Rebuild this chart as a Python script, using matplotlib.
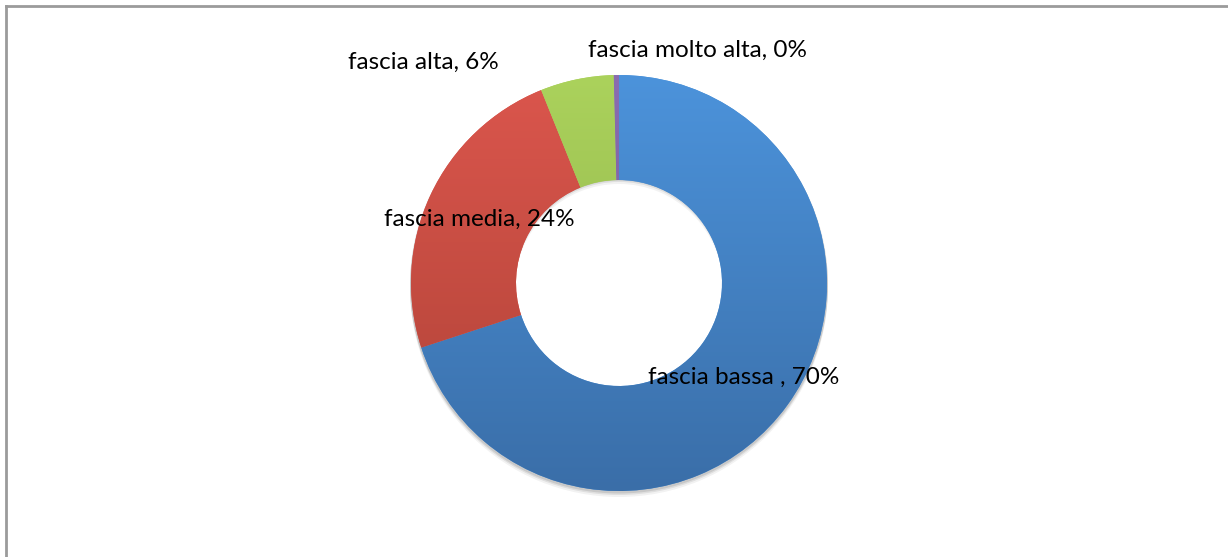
import matplotlib.pyplot as plt
import numpy as np
from matplotlib.colors import to_rgb
from matplotlib.lines import Line2D
from matplotlib.patches import Wedge

# Data
categories = ['fascia bassa ', 'fascia media', 'fascia alta', 'fascia molto alta']
values = [69.9, 23.9, 5.7, 0.4]
top_colors = ['#4C93DB', '#DB564D', '#ABD25C', '#8A6DB0']
bottom_colors = ['#3A6EA8', '#AE4236', '#8AAB46', '#6F5592']
label_pos = [(744, 377), (479, 219), (423, 62), (698, 50)]

W, H = 1228, 557
fig = plt.figure(figsize=(W / 100, H / 100), dpi=100)
ax = fig.add_axes([0, 0, 1, 1])

cx, cy = 619, H - 283
r_out, ring = 208, 105

# soft shadow under the ring
for dy, a in [(5, 0.05), (3, 0.08), (1.5, 0.10)]:
    ax.add_patch(Wedge((cx, cy - dy), r_out + 1, 0, 360, width=ring,
                       facecolor='black', alpha=a, edgecolor='none', zorder=0))

wedges, _ = ax.pie(values, center=(cx, cy), radius=r_out, startangle=90,
                   counterclock=False, frame=True,
                   wedgeprops=dict(width=ring, edgecolor='none'))

# vertical gradient fill clipped to each slice
n = 256
t = np.linspace(0, 1, n)[:, None]
for w, c_top, c_bot in zip(wedges, top_colors, bottom_colors):
    ct, cb = np.array(to_rgb(c_top)), np.array(to_rgb(c_bot))
    grad = (cb * (1 - t) + ct * t)[:, None, :]
    w.set_facecolor(c_top)
    im = ax.imshow(grad, extent=[cx - r_out, cx + r_out, cy - r_out, cy + r_out],
                   origin='lower', aspect='auto', zorder=2, interpolation='bilinear')
    im.set_clip_path(w)

total = sum(values)
for name, v, (x, y) in zip(categories, values, label_pos):
    ax.text(x, H - y, f'{name}, {v / total * 100:.0f}%', ha='center', va='center',
            fontsize=17.5, family='Lato', color='black', zorder=5)

ax.set_xlim(0, W)
ax.set_ylim(0, H)
ax.set_aspect('equal')
ax.axis('off')

# chart frame (only top and left edges visible)
frame = '#9B9B9B'
fig.add_artist(Line2D([6 / W, 1], [1 - 6 / H, 1 - 6 / H], color=frame, lw=2,
                      transform=fig.transFigure))
fig.add_artist(Line2D([6 / W, 6 / W], [1 - 6 / H, 0], color=frame, lw=2,
                      transform=fig.transFigure))

fig.savefig('out.png', dpi=100)
